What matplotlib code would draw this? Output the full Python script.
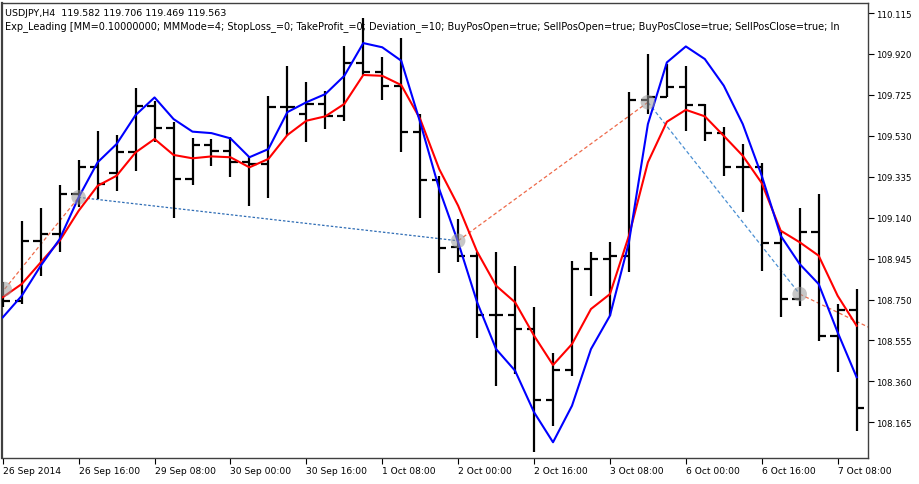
import numpy as np
import matplotlib
matplotlib.use("Agg")
import matplotlib.pyplot as plt

header = "USDJPY,H4  119.582 119.706 119.469 119.563"
expert = ("Exp_Leading [MM=0.10000000; MMMode=4; StopLoss_=0; TakeProfit_=0; "
          "Deviation_=10; BuyPosOpen=true; SellPosOpen=true; BuyPosClose=true; "
          "SellPosClose=true; In")

# H4 bars
opens = [108.772, 108.744, 109.030, 109.062, 109.253, 109.380, 109.353, 109.454,
         109.673, 109.566, 109.324, 109.486, 109.459, 109.404, 109.396, 109.669,
         109.634, 109.682, 109.623, 109.875, 109.835, 109.766, 109.550, 109.319,
         108.999, 108.956, 108.676, 108.676, 108.610, 108.271, 108.416, 108.895,
         108.943, 108.959, 109.700, 109.713, 109.761, 109.677, 109.543, 109.380,
         109.380, 109.019, 108.753, 109.070, 108.578, 108.702]
highs = [108.834, 109.126, 109.186, 109.296, 109.416, 109.554, 109.534, 109.758,
         109.697, 109.597, 109.518, 109.515, 109.523, 109.435, 109.721, 109.864,
         109.785, 109.745, 109.956, 110.090, 109.904, 109.995, 109.634, 109.340,
         109.134, 108.978, 108.976, 108.911, 108.714, 108.495, 108.935, 108.978,
         109.023, 109.740, 109.920, 109.872, 109.861, 109.680, 109.570, 109.491,
         109.400, 109.070, 109.185, 109.253, 108.729, 108.800]
lows = [108.714, 108.729, 108.862, 108.976, 109.191, 109.229, 109.268, 109.364,
        109.499, 109.137, 109.296, 109.385, 109.332, 109.194, 109.232, 109.530,
        109.502, 109.562, 109.602, 109.820, 109.702, 109.451, 109.137, 108.876,
        108.927, 108.565, 108.338, 108.395, 108.024, 108.149, 108.384, 108.765,
        108.670, 108.883, 109.634, 109.713, 109.554, 109.507, 109.340, 109.166,
        108.887, 108.665, 108.719, 108.554, 108.403, 108.125]
closes = [108.744, 109.030, 109.062, 109.253, 109.380, 109.300, 109.454, 109.673,
          109.566, 109.324, 109.486, 109.459, 109.404, 109.396, 109.669, 109.669,
          109.682, 109.623, 109.875, 109.835, 109.766, 109.550, 109.319, 108.994,
          108.956, 108.676, 108.676, 108.610, 108.271, 108.416, 108.895, 108.943,
          108.959, 109.700, 109.713, 109.761, 109.677, 109.543, 109.380, 109.380,
          109.019, 108.753, 109.070, 108.578, 108.702, 108.232]

# indicator lines
leading_blue = [108.665, 108.768, 108.911, 109.038, 109.237, 109.404, 109.491, 109.629,
                109.713, 109.610, 109.550, 109.543, 109.518, 109.428, 109.467, 109.643,
                109.690, 109.729, 109.816, 109.972, 109.952, 109.888, 109.594, 109.277,
                109.023, 108.737, 108.514, 108.411, 108.213, 108.070, 108.244, 108.514,
                108.673, 109.023, 109.586, 109.880, 109.956, 109.896, 109.769, 109.586,
                109.340, 109.054, 108.919, 108.824, 108.594, 108.380]
leading_red = [108.761, 108.824, 108.927, 109.030, 109.173, 109.292, 109.340, 109.451,
               109.515, 109.439, 109.423, 109.432, 109.428, 109.380, 109.420, 109.534,
               109.602, 109.623, 109.682, 109.820, 109.816, 109.772, 109.610, 109.372,
               109.197, 108.978, 108.816, 108.737, 108.578, 108.438, 108.538, 108.705,
               108.776, 109.054, 109.404, 109.597, 109.654, 109.623, 109.530, 109.435,
               109.305, 109.078, 109.023, 108.959, 108.768, 108.625]

# deals (bar index, price); last one is off the right edge
trade_bars = [0.1, 4, 24, 34, 42, 48]
trade_prices = [108.800, 109.237, 109.030, 109.690, 108.776, 108.515]
trade_line_colors = ["#ee6a4a", "#2f6db5", "#ee6a4a", "#4a8fd2", "#ee6a4a"]
trade_line_dashes = [(3, 2), (2, 1.5), (3, 2), (3, 2), (3, 2)]

time_labels = ["26 Sep 2014", "26 Sep 16:00", "29 Sep 08:00", "30 Sep 00:00",
               "30 Sep 16:00", "1 Oct 08:00", "2 Oct 00:00", "2 Oct 16:00",
               "3 Oct 08:00", "6 Oct 00:00", "6 Oct 16:00", "7 Oct 08:00"]
price_ticks = [110.115, 109.920, 109.725, 109.530, 109.335, 109.140,
               108.945, 108.750, 108.555, 108.360, 108.165]

fig = plt.figure(figsize=(9.2, 4.85), dpi=100)
ax = fig.add_axes([2 / 920, 26 / 485, 866 / 920, 455 / 485])

x = np.arange(len(opens))
tick = 0.38

ax.text(0.004, 0.980, header, transform=ax.transAxes, fontsize=6.8,
        va="center", ha="left", clip_on=True, zorder=1)
ax.text(0.004, 0.951, expert, transform=ax.transAxes, fontsize=7.0,
        va="center", ha="left", clip_on=True, zorder=1)

ax.vlines(x, lows, highs, color="black", lw=1.6, zorder=3)
ax.hlines(opens, x - tick, x, color="black", lw=1.6, zorder=3)
ax.hlines(closes, x, x + tick, color="black", lw=1.6, zorder=3)

for i in range(len(trade_bars) - 1):
    ax.plot(trade_bars[i:i + 2], trade_prices[i:i + 2],
            color=trade_line_colors[i], lw=0.9, dashes=trade_line_dashes[i], zorder=2)

ax.plot(x, leading_red, color="#ff0000", lw=1.5, zorder=4)
ax.plot(x, leading_blue, color="#0000ff", lw=1.5, zorder=4)

ax.scatter(trade_bars[:-1], trade_prices[:-1], s=110, color="#9a9a9a",
           alpha=0.55, edgecolors="none", zorder=5)

ax.set_xlim(-0.04, 45.6)
ax.set_ylim(107.995, 110.163)

ax.yaxis.tick_right()
ax.set_yticks(price_ticks)
ax.set_yticklabels([f"{p:.3f}" for p in price_ticks])
ax.tick_params(axis="y", direction="out", length=4, width=0.8, pad=2, labelsize=6.2)

ax.set_xticks(np.arange(0, len(opens), 4))
ax.set_xticklabels(time_labels, ha="left")
ax.tick_params(axis="x", direction="out", length=4.5, width=0.8, pad=1.5, labelsize=6.6)

for sp in ax.spines.values():
    sp.set_color("#404040")
    sp.set_linewidth(1.0)
ax.spines["left"].set_linewidth(1.6)

fig.savefig("out.png", dpi=100)
